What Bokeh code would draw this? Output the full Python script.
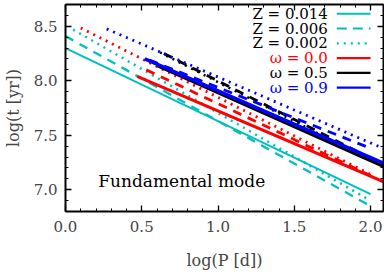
from bokeh.plotting import figure
from bokeh.models import LinearAxis, FixedTicker, PrintfTickFormatter, Range1d
from bokeh.core.properties import value
from bokeh.embed import file_html
from bokeh.resources import INLINE

# ---- data: each relation drawn as a straight line between two end points ----
# cyan set (Z sequence shown in legend)
cyan_logP_start = [0.00, 0.00, 0.05]
cyan_logP_end = [2.00, 2.00, 2.00]
cyan_logt_start = [8.30, 8.41, 8.47]
cyan_logt_end = [6.96, 6.85, 6.90]

# omega = 0.0 (red): solid, dashed, dotted
red_logP_start = [0.47, 0.53, 0.10]
red_logP_end = [2.09, 2.00, 2.00]
red_logt_start = [8.04, 8.10, 8.485]
red_logt_end = [7.07, 7.13, 7.14]

# omega = 0.5 (black): solid, dashed, dotted
black_logP_start = [0.60, 0.645, 0.62]
black_logP_end = [2.09, 2.00, 2.00]
black_logt_start = [8.14, 8.25, 8.26]
black_logt_end = [7.21, 7.29, 7.27]

# omega = 0.9 (blue): solid, dashed, dotted
blue_logP_start = [0.52, 0.55, 0.27]
blue_logP_end = [2.09, 2.00, 2.09]
blue_logt_start = [8.20, 8.19, 8.476]
blue_logt_end = [7.24, 7.38, 7.375]

z_labels = ["Z = 0.014", "Z = 0.006", "Z = 0.002"]
omega_labels = ["\u03c9 = 0.0", "\u03c9 = 0.5", "\u03c9 = 0.9"]
x_ticks = [0.0, 0.5, 1.0, 1.5, 2.0]
y_ticks = [7.0, 7.5, 8.0, 8.5]

# ---- styles ----
CYAN = "#00bfbf"
RED = "#ff0000"
BLACK = "#000000"
BLUE = "#0000ff"
DASHES = ["solid", "9 7", "2 5"]
FONT = "DejaVu Serif"

X0, X1 = 0.0, 2.085
Y0, Y1 = 6.8, 8.7
W, H = 384, 272
FL, FR, FT, FB = 63, 1, 4, 55  # frame borders in px
FW, FH = W - FL - FR, H - FT - FB


def px_to_x(px):
    return X0 + (px - FL) / FW * (X1 - X0)


def py_to_y(py):
    return Y1 - (py - FT) / FH * (Y1 - Y0)


p = figure(width=W, height=H, output_backend="svg", toolbar_location=None,
           x_range=Range1d(X0, X1), y_range=Range1d(Y0, Y1),
           min_border_left=FL, min_border_right=FR, min_border_top=FT,
           min_border_bottom=FB, background_fill_color="white",
           border_fill_color="white")
p.grid.visible = False
p.outline_line_color = None

bottom = p.below[0]
left = p.left[0]

minor_x = [i / 10 for i in range(0, 21)]
minor_y = [6.8 + i / 10 for i in range(0, 20)]

bottom.ticker = FixedTicker(ticks=x_ticks, minor_ticks=minor_x)
left.ticker = FixedTicker(ticks=y_ticks, minor_ticks=minor_y)
bottom.formatter = PrintfTickFormatter(format="%.1f")
left.formatter = PrintfTickFormatter(format="%.1f")
bottom.axis_label = "log(P [d])"
left.axis_label = "log(t [yr])"

top = LinearAxis(ticker=FixedTicker(ticks=x_ticks, minor_ticks=minor_x))
right = LinearAxis(ticker=FixedTicker(ticks=y_ticks, minor_ticks=minor_y))
p.add_layout(top, "above")
p.add_layout(right, "right")

for ax in [bottom, left, top, right]:
    ax.axis_line_width = 2
    ax.major_tick_in = 6
    ax.major_tick_out = 0
    ax.minor_tick_in = 3
    ax.minor_tick_out = 0
    ax.major_tick_line_width = 1.3
    ax.minor_tick_line_width = 1.0
    ax.major_label_text_font = FONT
    ax.major_label_text_font_size = "15px"
    ax.axis_label_text_font = FONT
    ax.axis_label_text_font_size = "16px"
    ax.axis_label_text_font_style = "normal"

for ax in [top, right]:
    ax.major_label_text_font_size = "0px"
    ax.major_label_standoff = 0
    ax.major_label_text_alpha = 0

bottom.major_label_standoff = 9
left.major_label_standoff = 8
bottom.axis_label_standoff = 16
left.axis_label_standoff = 8

groups = [
    (CYAN, cyan_logP_start, cyan_logP_end, cyan_logt_start, cyan_logt_end, [2.0, 2.3, 2.5]),
    (RED, red_logP_start, red_logP_end, red_logt_start, red_logt_end, [3.0, 2.8, 2.8]),
    (BLACK, black_logP_start, black_logP_end, black_logt_start, black_logt_end, [3.0, 2.8, 2.5]),
    (BLUE, blue_logP_start, blue_logP_end, blue_logt_start, blue_logt_end, [3.5, 2.8, 2.8]),
]
for color, xs0, xs1, ys0, ys1, widths in groups:
    for i in range(3):
        p.line([xs0[i], xs1[i]], [ys0[i], ys1[i]], line_color=color,
               line_width=widths[i], line_dash=DASHES[i])

# ---- legend (drawn manually: right-aligned coloured labels, sample to the right) ----
legend_labels = z_labels + omega_labels
legend_text_colors = [BLACK, BLACK, BLACK, RED, BLACK, BLUE]
legend_line_colors = [CYAN, CYAN, CYAN, RED, BLACK, BLUE]
legend_dashes = ["solid", "10 6", "2 5", "solid", "solid", "solid"]
row_py = [13.5, 28.7, 43.9, 59.1, 74.3, 89.5]
tx = px_to_x(327)
lx0, lx1 = px_to_x(336), px_to_x(370)
for i, lab in enumerate(legend_labels):
    yy = py_to_y(row_py[i])
    p.text(x=[tx], y=[yy], text=[lab], text_align="right", text_baseline="middle",
           text_font=value(FONT), text_font_size="15px", text_color=legend_text_colors[i])
    p.line([lx0, lx1], [yy, yy], line_color=legend_line_colors[i], line_width=2.2,
           line_dash=legend_dashes[i])

p.text(x=[px_to_x(96)], y=[py_to_y(186)], text=["Fundamental mode"], text_align="left",
       text_baseline="middle", text_font=value(FONT), text_font_size="17px",
       text_color=BLACK)

open("out.html", "w").write(file_html(p, INLINE))
